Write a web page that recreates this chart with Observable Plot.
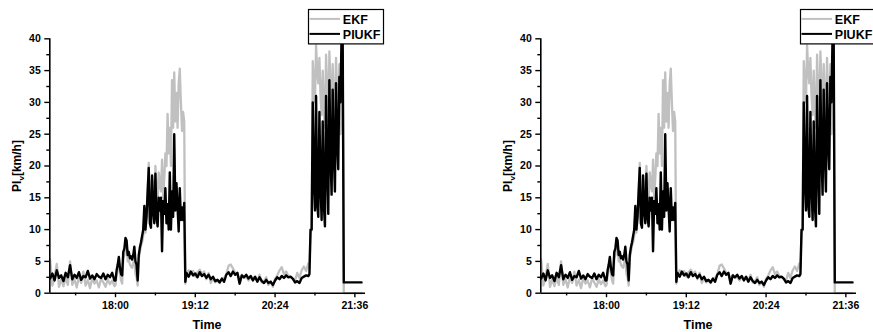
<!DOCTYPE html>
<html><head><meta charset="utf-8">
<script src="https://cdn.jsdelivr.net/npm/d3@7"></script>
<script src="https://cdn.jsdelivr.net/npm/@observablehq/plot@0.6"></script>
<style>
html,body{margin:0;padding:0;background:#fff;}
body{width:873px;height:332px;overflow:hidden;position:relative;font-family:"Liberation Sans",Arial,sans-serif;}
.panel{position:absolute;top:0;width:440px;height:332px;}
.panel svg{position:absolute;left:0;top:0;overflow:visible;}
</style></head><body>
<div id="p1" class="panel" style="left:0px"></div>
<div id="p2" class="panel" style="left:491.4px"></div>
<script>
// minutes after 17:00
const times = [1,3,5,7,9,11,13,15,17,19,21,23,25,27,29,31,33,35,37,39,41,43,45,47,49,51,53,55,57,59,
60,61,62,63,64,65,66,67,68,69,70,71,72,73,74,75,76,77,78,79,80,81,82,83,84,85,
86,87,88,89,90,91,92,93,94,95,96,97,98,99,100,101,102,103,104,105,106,107,108,109,110,111,112,113,114,115,116,117,118,119,120,121,122,123,
124,126,128,130,132,134,136,138,140,142,144,146,148,150,152,154,156,158,160,162,164,166,168,170,172,174,176,178,180,182,184,186,188,190,192,194,196,198,200,202,204,206,208,210,212,214,216,218,220,222,224,226,228,230,232,234,235,
236,237,238,239,240,241,242,243,244,245,246,247,248,249,250,251,252,253,254,255,256,257,258,259,260,261,262,263,264,265,266,282];

const ekf = [5.3,1.2,2.6,4.6,1.0,2.2,1.1,2.4,1.3,5.0,1.3,2.2,0.9,2.6,1.6,3.4,1.2,2.1,0.8,2.4,1.5,2.0,0.9,2.3,1.7,1.0,2.2,1.4,2.0,1.1,
1.3,2.8,3.8,4.6,3.2,2.0,1.5,5.5,6.0,7.5,7.8,5.0,5.2,4.5,4.2,4.0,4.8,5.5,3.0,2.5,1.2,5.5,6.5,7.5,8.0,9.0,
12.5,9.5,12,16,20.5,11.5,13,18,17,14,20,16,15,19,17,16,21,15,18,22,20,28.2,22,26,20,33.5,26,34.7,27,31.5,26,33,35.3,30,25.5,28.5,27,1.5,
3.0,3.6,3.0,3.5,2.6,3.3,3.7,3.1,3.4,2.2,3.2,1.6,2.4,1.7,2.0,1.6,2.2,2.4,3.0,4.3,4.5,3.9,3.2,3.0,2.2,2.9,2.4,2.6,2.0,2.5,2.4,2.3,2.0,2.9,1.7,1.9,2.5,1.3,1.9,1.0,2.3,2.8,3.6,4.1,3.0,3.4,2.7,2.5,2.2,2.0,3.2,2.4,3.6,4.2,3.5,4.7,4.0,
9.5,10,36.5,33,30,39,35,33,37,31,28,35,29,26,37.5,32,27,38,33,26,36,30,27,37,31,28,36,25,30,38,0,0];

const piukf = [2.3,3.1,2.0,3.6,2.4,2.8,1.9,3.2,2.5,4.4,2.2,2.9,2.4,3.3,2.1,2.7,2.5,3.5,2.3,2.8,2.2,3.0,2.6,2.4,3.1,2.2,2.9,2.5,3.2,2.0,
2.0,3.6,4.5,5.7,4.0,3.0,2.8,6.5,7.0,8.7,8.3,6.0,6.5,5.5,5.8,5.3,6.0,7.3,5.0,4.5,2.0,6.0,7.2,8.0,9.0,10.0,
13.7,10.0,12.0,16.0,19.7,11.0,10.3,18.5,13.0,11.0,18.8,12.0,10.5,15.0,13.0,15.0,6.6,14.5,12.5,16.5,11.0,14.0,10.0,19.0,10.0,16.0,12.0,25.0,13.0,17.3,13.5,9.7,16.5,11.5,13.5,11.5,14.2,1.8,
3.2,2.6,3.4,2.8,3.1,2.5,3.3,2.7,3.0,2.4,2.9,2.2,2.6,1.9,2.1,1.7,2.3,1.8,2.9,3.3,2.7,3.4,2.9,3.2,1.5,2.8,2.5,2.9,2.3,2.7,2.0,2.6,1.8,2.5,1.9,1.6,2.1,1.6,1.8,1.3,2.0,2.5,2.2,2.7,2.4,2.8,2.5,2.6,2.3,1.7,1.9,1.6,2.4,2.6,2.8,2.7,3.0,
10,10,30,18,13,31,14,12,28.5,17,11.5,27,14,10.5,31,20,12.5,33.5,22,15.5,32,22,16,33,24,19.5,34,30,40.5,40.5,1.7,1.7];

const seriesNames = ["EKF", "PIUKF"];
const seriesColors = ["#c0c0c0", "#000000"];
const xDomain = [0.7, 285.6];
const yDomain = [0, 40];
const xTicks = [60, 132, 204, 276];
const xTickLabels = ["18:00", "19:12", "20:24", "21:36"];
const xMinorTicks = [24, 96, 168, 240];
const yTicks = [0, 5, 10, 15, 20, 25, 30, 35, 40];
const yMinorTicks = [2.5, 7.5, 12.5, 17.5, 22.5, 27.5, 32.5, 37.5];
const xLabel = "Time";

const ekfData = times.map((t, i) => ({t, v: ekf[i]}));
const piukfData = times.map((t, i) => ({t, v: piukf[i]}));

function makePanel(container) {
  const svg = Plot.plot({
    width: 440, height: 332,
    marginLeft: 49.3, marginRight: 75, marginTop: 38.3, marginBottom: 39.3,
    style: {fontFamily: '"Liberation Sans", Arial, sans-serif', fontSize: "10.5px", fontWeight: "bold", color: "#000", background: "transparent"},
    x: {domain: xDomain, axis: null},
    y: {domain: yDomain, axis: null},
    marks: [
      Plot.line(ekfData, {x: "t", y: "v", stroke: seriesColors[0], strokeWidth: 2.3}),
      Plot.line(piukfData, {x: "t", y: "v", stroke: seriesColors[1], strokeWidth: 2.4}),
      Plot.ruleY([yDomain[0]], {stroke: "#000", strokeWidth: 1.6}),
      Plot.ruleX([xDomain[0]], {stroke: "#000", strokeWidth: 1.6}),
      Plot.axisX({ticks: xTicks, tickSize: 4.5, tickPadding: 4, strokeWidth: 1.4,
        tickFormat: d => xTickLabels[xTicks.indexOf(d)], label: null}),
      Plot.axisX({ticks: xMinorTicks, tickSize: 2.7, strokeWidth: 1.4, text: null, label: null}),
      Plot.axisY({ticks: yTicks, tickSize: 5, tickPadding: 4, strokeWidth: 1.4, label: null}),
      Plot.axisY({ticks: yMinorTicks, tickSize: 3, strokeWidth: 1.4, text: null, label: null})
    ]
  });
  const s = d3.select(svg);
  s.append("text")
    .attr("x", 207).attr("y", 328.5)
    .attr("text-anchor", "middle")
    .style("font-size", "12.5px").style("font-weight", "bold").attr("fill", "#000")
    .text(xLabel);
  const yl = s.append("text")
    .attr("transform", "translate(20.5,166) rotate(-90)")
    .attr("text-anchor", "middle")
    .style("font-size", "12px").style("font-weight", "bold").attr("fill", "#000");
  yl.append("tspan").text("PI");
  yl.append("tspan").attr("dy", 3).style("font-size", "8px").text("v");
  yl.append("tspan").attr("dy", -3).text("[km/h]");
  container.appendChild(svg);

  // legend
  const lg = d3.select(container).append("svg")
    .attr("width", 76).attr("height", 36)
    .style("left", "308.2px").style("top", "8.8px");
  lg.append("rect").attr("x", 0.5).attr("y", 0.5).attr("width", 75).attr("height", 34.4)
    .attr("fill", "#fff").attr("stroke", "#000").attr("stroke-width", 1.2);
  seriesNames.forEach((name, i) => {
    const y = 9.9 + i * 15;
    lg.append("line").attr("x1", 1.5).attr("x2", 32).attr("y1", y).attr("y2", y)
      .attr("stroke", seriesColors[i]).attr("stroke-width", 2);
    lg.append("text").attr("x", 34.8).attr("y", y + 4.6)
      .style("font-family", '"Liberation Sans", Arial, sans-serif')
      .style("font-size", "12.5px").style("font-weight", "bold").attr("fill", "#000")
      .text(name);
  });
}
makePanel(document.getElementById("p1"));
makePanel(document.getElementById("p2"));
</script>
</body></html>
